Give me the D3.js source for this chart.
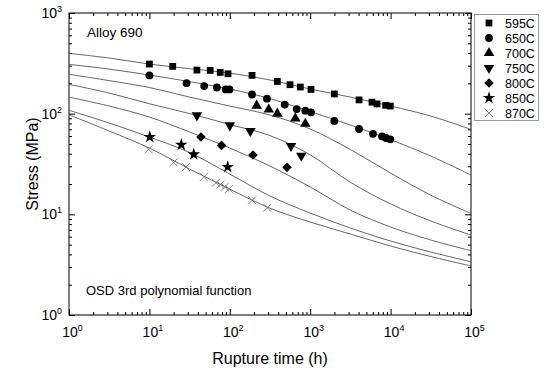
<!DOCTYPE html>
<html lang="en">
<head>
<meta charset="UTF-8">
<title>Alloy 690 rupture</title>
<style>
    body { margin: 0; background: #fff; }
    svg text { font-family: "Liberation Sans", Arial, sans-serif; fill: #000; }
    .axis path { display: none; }
    .axis line { stroke: #000; stroke-width: 1; }
    .fit { fill: none; stroke: #555; stroke-width: 0.9; }
</style>
</head>
<body>
<svg id="chart" width="544" height="374"></svg>
<script src="https://d3js.org/d3.v7.min.js"></script>
<script>
    // fitted curves (OSD 3rd polynomial)
    var fitTimes = [1, 3.162, 10, 31.62, 100, 316.2, 1000, 3162, 10000, 31620, 100000];
    var fit595 = [397, 357, 311, 280, 253, 216, 175.5, 146, 119, 94.7, 69.8];
    var fit650 = [309, 277, 242, 208, 175.5, 141, 105, 77, 55.3, 37.9, 24.6];
    var fit700 = [246, 213, 182, 146, 119, 96.9, 70.5, 44, 25.7, 15.5, 10.2];
    var fit750 = [195.4, 160.2, 125.4, 100.2, 78.0, 60.5, 39, 20.8, 12.7, 8.58, 6.23];
    var fit800 = [146, 119, 92.5, 65.7, 45.5, 30.2, 18.7, 11.0, 7.48, 5.56, 4.35];
    var fit850 = [108, 80.7, 58.6, 41.1, 25.1, 15.2, 10.3, 7.31, 5.43, 4.22, 3.38];
    var fit870 = [97.5, 67.2, 45.5, 28.2, 17.8, 11.5, 8.38, 6.37, 4.84, 3.81, 3.07];

    // test data: rupture time (h) and stress (MPa)
    var t595 = [10, 19.5, 39, 57, 76, 95, 189, 390, 561, 753, 1023, 1995, 4050, 5870, 6780, 8690, 9910];
    var s595 = [311, 295, 271, 269, 257, 249, 240, 209, 194, 184, 174, 157, 137, 130, 125, 121, 119];
    var t650 = [10, 29, 48, 69, 89, 99, 189, 290, 482, 679, 869, 1023, 1995, 4050, 6040, 7820, 8770, 9910];
    var s650 = [240, 201, 188, 182, 174, 174, 155, 141, 123, 111, 107, 103, 84.5, 70.4, 63, 59.5, 57.3, 55.6];
    var t700 = [216, 305, 390, 653, 869];
    var s700 = [120, 110, 100, 89.8, 79.4];
    var t750 = [39, 100, 180, 577, 775];
    var s750 = [96.2, 76.5, 67.2, 47.7, 38.2];
    var t800 = [43.8, 78.8, 194, 515];
    var s800 = [58.6, 48.4, 38.8, 29.3];
    var t850 = [10.1, 24.9, 35.6, 94.2];
    var s850 = [58.6, 49.1, 39.4, 29.5];
    var t870 = [9.8, 20, 28.5, 47.8, 67.3, 76.2, 86.4, 97.7, 190, 293];
    var s870 = [44.2, 32.8, 29.5, 23.6, 20.6, 19.7, 18.7, 17.9, 13.8, 11.6];

    var legendLabels = ["595C", "650C", "700C", "750C", "800C", "850C", "870C"];
    var xMajor = [1, 10, 100, 1000, 10000, 100000];
    var yMajor = [1, 10, 100, 1000];

    // plot box (note: "top" is taken by window.top, so use p* names)
    var pL = 69, pR = 471, pT = 13, pB = 315;
    var svg = d3.select("#chart");

    var x = d3.scaleLog().domain([1, 1e5]).range([pL, pR]);
    var y = d3.scaleLog().domain([1, 1000]).range([pB, pT]);

    function minors(lo, hi) {
        var out = [];
        for (var d = lo; d < hi; d *= 10)
            for (var k = 2; k <= 9; k++) out.push(d * k);
        return out;
    }
    var xMinor = minors(1, 1e5), yMinor = minors(1, 1000);

    // axes, ticks pointing inward on all four sides
    function addAxis(axisFn, scale, vals, size, transform) {
        return svg.append("g").attr("class", "axis")
            .attr("transform", transform)
            .call(axisFn(scale).tickValues(vals).tickSize(size).tickFormat(""));
    }
    addAxis(d3.axisBottom, x, xMinor, -3, "translate(0," + pB + ")");
    addAxis(d3.axisTop, x, xMinor, -3, "translate(0," + pT + ")");
    addAxis(d3.axisLeft, y, yMinor, -3, "translate(" + pL + ",0)");
    addAxis(d3.axisRight, y, yMinor, -3, "translate(" + pR + ",0)");
    var xb = addAxis(d3.axisBottom, x, xMajor, -6, "translate(0," + pB + ")");
    addAxis(d3.axisTop, x, xMajor, -6, "translate(0," + pT + ")");
    var yl = addAxis(d3.axisLeft, y, yMajor, -6, "translate(" + pL + ",0)");
    addAxis(d3.axisRight, y, yMajor, -6, "translate(" + pR + ",0)");

    // power-of-ten tick labels
    function powLabel(sel, v) {
        var e = Math.round(Math.log10(v));
        sel.text("");
        sel.append("tspan").text("10");
        sel.append("tspan").attr("dy", -6).style("font-size", "9px").text(e);
    }
    xb.selectAll(".tick text").each(function(d) {
        var t = d3.select(this).attr("y", 22).attr("dy", 0).attr("dx", 3)
            .style("font-size", "14px").style("text-anchor", "middle");
        powLabel(t, d);
    });
    yl.selectAll(".tick text").each(function(d) {
        var t = d3.select(this).attr("x", -7).attr("dy", 0).attr("y", 4.5)
            .style("font-size", "14px").style("text-anchor", "end");
        powLabel(t, d);
    });

    svg.append("rect")
        .attr("x", pL).attr("y", pT)
        .attr("width", pR - pL).attr("height", pB - pT)
        .attr("fill", "none").attr("stroke", "#000").attr("stroke-width", 1);

    // fitted lines
    var line = d3.line()
        .x(d => x(d[0]))
        .y(d => y(d[1]))
        .curve(d3.curveCatmullRom.alpha(0.5));
    [fit595, fit650, fit700, fit750, fit800, fit850, fit870].forEach(function(f) {
        svg.append("path").attr("class", "fit")
            .attr("d", line(fitTimes.map((t, i) => [t, f[i]])));
    });

    // marker shapes
    var shapes = [
        { path: d3.symbol(d3.symbolSquare, 46)(), rot: 0, fill: "#000" },
        { path: d3.symbol(d3.symbolCircle, 48)(), rot: 0, fill: "#000" },
        { path: d3.symbol(d3.symbolTriangle, 48)(), rot: 0, fill: "#000" },
        { path: d3.symbol(d3.symbolTriangle, 48)(), rot: 180, fill: "#000" },
        { path: d3.symbol(d3.symbolSquare, 46)(), rot: 45, fill: "#000" },
        { path: d3.symbol(d3.symbolStar, 50)(), rot: 0, fill: "#000" },
        { path: "M-4,-4L4,4M-4,4L4,-4", rot: 0, fill: "none", stroke: "#777" }
    ];
    var series = [[t595, s595], [t650, s650], [t700, s700], [t750, s750],
                  [t800, s800], [t850, s850], [t870, s870]];

    function drawShape(g, sh, px, py) {
        var p = g.append("path").attr("d", sh.path)
            .attr("transform", "translate(" + px + "," + py + ") rotate(" + sh.rot + ")")
            .attr("fill", sh.fill);
        if (sh.stroke) p.attr("stroke", sh.stroke).attr("stroke-width", 0.9);
    }

    var marks = svg.append("g");
    series.forEach(function(s, i) {
        s[0].forEach(function(t, j) {
            drawShape(marks, shapes[i], x(t), y(s[1][j]));
        });
    });

    // legend
    var lg = svg.append("g");
    lg.append("rect").attr("x", 474.5).attr("y", 14.5).attr("width", 64).attr("height", 106)
        .attr("fill", "#fff").attr("stroke", "#999");
    legendLabels.forEach(function(lab, i) {
        var yy = 23 + i * 15;
        drawShape(lg, shapes[i], 489, yy);
        lg.append("text").attr("x", 505).attr("y", yy + 4.5)
            .style("font-size", "12.5px").text(lab);
    });

    // annotations and titles
    svg.append("text").attr("x", 87).attr("y", 37).style("font-size", "13.5px").text("Alloy 690");
    svg.append("text").attr("x", 86).attr("y", 295).style("font-size", "13px")
        .text("OSD 3rd polynomial function");
    svg.append("text").attr("x", (pL + pR) / 2).attr("y", 364)
        .style("font-size", "16px").style("text-anchor", "middle").text("Rupture time (h)");
    svg.append("text")
        .attr("transform", "translate(38," + ((pT + pB) / 2) + ") rotate(-90)")
        .style("font-size", "16px").style("text-anchor", "middle").text("Stress (MPa)");
</script>
</body>
</html>
